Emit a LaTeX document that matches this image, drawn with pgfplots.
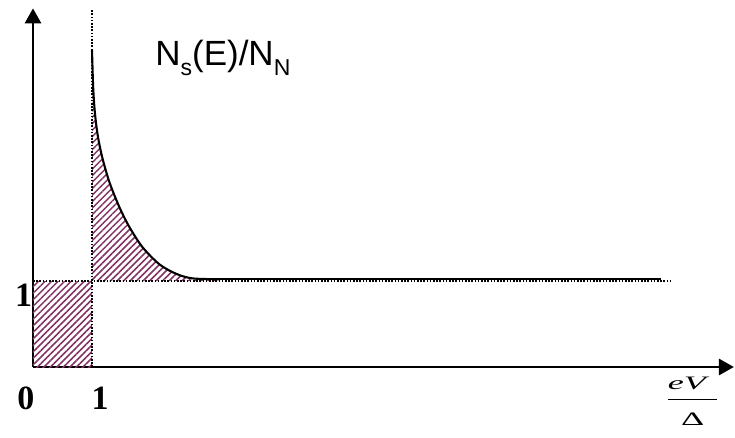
\documentclass[border=0pt]{standalone}
\usepackage{fontspec}
\setmainfont{Liberation Serif}
\newfontfamily\arialfont{Liberation Sans}
\usepackage{pgfplots}
\pgfplotsset{compat=1.18}
\usetikzlibrary{arrows.meta,patterns.meta}
\definecolor{hatch}{RGB}{130,50,100}

% density of states of the superconductor, normalised to the normal state
\pgfplotstableread{
x     y
1.00  3.69
1.02  3.25
1.05  2.95
1.10  2.68
1.18  2.42
1.30  2.14
1.47  1.85
1.64  1.62
1.86  1.39
2.15  1.19
2.44  1.08
2.71  1.03
3.17  1.02
}\dos

\tikzset{hatched/.style={draw=none,
  pattern={Lines[angle=45,distance=4.6pt,line width=1.5pt]}, pattern color=hatch}}

\begin{document}
\begin{tikzpicture}
\begin{axis}[
  x=59pt, y=86pt,
  xmin=0, xmax=11.88, ymin=0, ymax=4.17,
  axis lines=left, enlargelimits=false, clip=false,
  xtick=\empty, ytick=\empty,
  axis line style={line width=2.8pt, -{Triangle[length=15pt,width=16pt]}},
]
\coordinate (O) at (axis cs:0,0);

% hatched areas
\addplot[hatched] coordinates {(0,0) (1,0) (1,1) (0,1)} -- cycle;
\addplot[hatched] coordinates {(1,1) (1,3.69) (1.02,3.25) (1.05,2.95) (1.10,2.68) (1.18,2.42)
  (1.30,2.14) (1.47,1.85) (1.64,1.62) (1.86,1.39) (2.15,1.19) (2.44,1.08) (2.71,1.03)
  (3.17,1.02) (3.17,1)} -- cycle;

% dotted guides at eV/Delta = 1 and N = 1
\addplot[line width=1.6pt, dash pattern=on 1.6pt off 1.6pt] coordinates {(1,0) (1,4.16)};
\addplot[line width=1.6pt, dash pattern=on 1.6pt off 1.6pt] coordinates {(0,1) (10.83,1)};

% the curve and its flat tail
\addplot[line width=2.1pt, smooth, tension=0.5] table[x=x,y=y] {\dos};
\addplot[line width=1.8pt] coordinates {(3.17,1.02) (10.64,1.02)};

% labels
\node[anchor=base west, inner sep=0, font=\arialfont\fontsize{35}{40}\selectfont]
  at (axis cs:2.07,3.51)
  {N\raisebox{-10pt}{\fontsize{23}{23}\selectfont s}(E)/N\raisebox{-10pt}{\fontsize{23}{23}\selectfont N}};
\node[inner sep=0, font=\bfseries\fontsize{34}{40}\selectfont] at (axis cs:-0.119,-0.366) {0};
\node[inner sep=0, font=\bfseries\fontsize{34}{40}\selectfont] at (axis cs:1.136,-0.366) {1};
\node[inner sep=0, font=\bfseries\fontsize{34}{40}\selectfont] at (axis cs:-0.161,0.831) {1};
\node[inner sep=0] at (axis cs:11.18,-0.40) {\scalebox{1.9}[1]{\fontsize{19}{22}\selectfont
  \vbox{\hbox to 26pt{\itshape eV\hss}\kern 9pt\hrule height 0.8pt\kern 14pt\hbox to 26pt{\hss Δ\hss}}}};
\end{axis}
\pgfresetboundingbox
\useasboundingbox (O) ++(-33pt,-70pt) rectangle ++(735pt,437pt);
\end{tikzpicture}
\end{document}
